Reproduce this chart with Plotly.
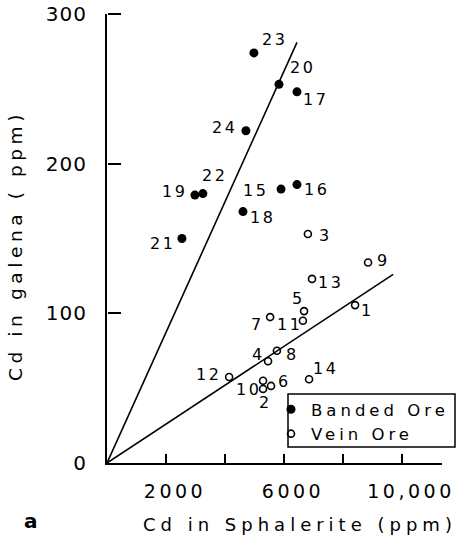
import plotly.graph_objects as go

# ---- data ----
banded_ids = ["23", "20", "17", "24", "19", "22", "15", "16", "18", "21"]
banded_sph = [4980, 5830, 6440, 4710, 2980, 3250, 5900, 6440, 4610, 2540]
banded_gal = [274, 253, 248, 222, 179, 180, 183, 186, 168, 150]

vein_ids = ["3", "9", "13", "5", "11", "7", "1", "4", "8", "12", "14", "6", "10", "2"]
vein_sph = [6810, 8850, 6950, 6680, 6640, 5530, 8410, 5460, 5760, 4140, 6850, 5560, 5290, 5290]
vein_gal = [153, 134, 123, 101.5, 95, 97.5, 105.5, 68, 75, 57.5, 56, 51.5, 55, 49.5]

banded_trend_x = [0, 6440]
banded_trend_y = [0, 281]
vein_trend_x = [0, 9700]
vein_trend_y = [0, 126]

x_tick_vals = [2000, 4000, 6000, 8000, 10000]
x_tick_text = ["2000", "", "6000", "", "10,000"]
y_tick_vals = [0, 100, 200, 300]
y_tick_text = ["0", "100", "200", "300"]

x_range = [0, 11356]
y_range = [0, 300]

x_title = "Cd in Sphalerite (ppm)"
y_title = "Cd in galena ( ppm)"
panel_label = "a"

# label offsets in pixels (right, down) from each point
label_offsets = {
    "23": (21, -13), "20": (24, -17), "17": (19, 8), "24": (-21, -3),
    "19": (-20, -4), "22": (12, -18), "15": (-26, 1), "16": (20, 5),
    "18": (20, 6), "21": (-19, 5),
    "3": (18, 1), "9": (15, -2), "13": (18, 4), "5": (-6, -13),
    "11": (-13, 4), "7": (-13, 7), "1": (12, 5), "4": (-10, -7),
    "8": (16, 4), "12": (-21, -2), "14": (16, -11), "6": (13, -4),
    "10": (-15, 9), "2": (2, 14),
}

FONT = "DejaVu Sans"
W, H = 466, 538
ML, MR, MT, MB = 107, 24, 14, 75
pw, ph = W - ML - MR, H - MT - MB


def px_x(p):
    return (p - ML) / pw


def px_y(p):
    return (H - MB - p) / ph


fig = go.Figure()

fig.add_trace(go.Scatter(x=banded_trend_x, y=banded_trend_y, mode="lines",
                         line=dict(color="black", width=1.6), showlegend=False,
                         hoverinfo="skip"))
fig.add_trace(go.Scatter(x=vein_trend_x, y=vein_trend_y, mode="lines",
                         line=dict(color="black", width=1.6), showlegend=False,
                         hoverinfo="skip"))

fig.add_trace(go.Scatter(x=banded_sph, y=banded_gal, mode="markers",
                         name="Banded Ore",
                         marker=dict(symbol="circle", size=9, color="black",
                                     line=dict(width=0))))
fig.add_trace(go.Scatter(x=vein_sph, y=vein_gal, mode="markers",
                         name="Vein Ore",
                         marker=dict(symbol="circle-open", size=7, color="black",
                                     line=dict(width=1.6, color="black"))))

# empty trace that carries the overlay axes used for the inward tick marks
fig.add_trace(go.Scatter(x=[], y=[], xaxis="x2", yaxis="y2", showlegend=False,
                         hoverinfo="skip"))

annotations = []
for ids, xs, ys in ((banded_ids, banded_sph, banded_gal), (vein_ids, vein_sph, vein_gal)):
    for i, xv, yv in zip(ids, xs, ys):
        dx, dy = label_offsets[i]
        annotations.append(dict(x=xv, y=yv, xref="x", yref="y", text=i,
                                showarrow=False, xshift=dx, yshift=-dy,
                                font=dict(family=FONT, size=16)))

annotations.append(dict(x=px_x(31), y=px_y(521), xref="paper", yref="paper",
                        xanchor="center", yanchor="middle",
                        text="<b>" + panel_label + "</b>", showarrow=False,
                        font=dict(family=FONT, size=20)))
annotations.append(dict(x=px_x(300), y=px_y(524), xref="paper", yref="paper",
                        xanchor="center", yanchor="middle",
                        text=x_title, showarrow=False,
                        font=dict(family=FONT, size=18)))
annotations.append(dict(x=px_x(16), y=px_y(246), xref="paper", yref="paper",
                        xanchor="center", yanchor="middle",
                        text=y_title, showarrow=False, textangle=-90,
                        font=dict(family=FONT, size=18.5)))

fig.update_layout(
    width=W, height=H,
    margin=dict(l=ML, r=MR, t=MT, b=MB, pad=0, autoexpand=False),
    paper_bgcolor="white", plot_bgcolor="white",
    font=dict(family=FONT, color="black"),
    annotations=annotations,
    shapes=[dict(type="rect", xref="paper", yref="paper",
                 x0=px_x(288), x1=px_x(455), y0=px_y(447), y1=px_y(394),
                 line=dict(color="black", width=1.5), fillcolor="white",
                 layer="above")],
    showlegend=True,
    legend=dict(x=px_x(286), y=px_y(392), xanchor="left", yanchor="top",
                borderwidth=0, bgcolor="rgba(0,0,0,0)",
                font=dict(family=FONT, size=16.5),
                itemwidth=30, indentation=-15, tracegroupgap=0),
    xaxis=dict(range=x_range, showgrid=False, zeroline=False, automargin=False,
               showline=True, linecolor="black", linewidth=2,
               ticks="", tickvals=x_tick_vals, ticktext=x_tick_text,
               ticklabelshift=9, ticklabelstandoff=10,
               tickfont=dict(family=FONT, size=19)),
    yaxis=dict(range=y_range, showgrid=False, zeroline=False, automargin=False,
               showline=True, linecolor="black", linewidth=2,
               ticks="", tickvals=y_tick_vals, ticktext=y_tick_text,
               ticklabelstandoff=14,
               tickfont=dict(family=FONT, size=20)),
    # overlay axes: their outward ticks point into the plot, like the original
    xaxis2=dict(range=x_range, overlaying="x", side="top", anchor="free", position=0,
                showgrid=False, zeroline=False, showline=False, automargin=False,
                showticklabels=False, ticks="outside", ticklen=9, tickwidth=1.5,
                tickcolor="black", tickvals=x_tick_vals),
    yaxis2=dict(range=y_range, overlaying="y", side="right", anchor="free", position=0,
                showgrid=False, zeroline=False, showline=False, automargin=False,
                showticklabels=False, ticks="outside", ticklen=13, tickwidth=2,
                tickcolor="black", tickvals=y_tick_vals[1:]),
)

# widen the letter spacing like the original lettering (measured by plotly too)
css = (
    'body{margin:0}'
    'text[style*="font-size: 19px"]{letter-spacing:3.5px}'
    'text[style*="font-size: 20px"]{letter-spacing:1px}'
    'text[style*="font-size: 18px"]{letter-spacing:5px}'
    'text[style*="font-size: 18.5px"]{letter-spacing:4.6px}'
    'text[style*="font-size: 16px"]{letter-spacing:2.5px}'
    'text[style*="font-size: 16.5px"]{letter-spacing:4px}'
)
post = (
    "var gd=document.getElementById('{plot_id}');"
    "var s=document.createElement('style');"
    "s.textContent='" + css + "';"
    "document.head.appendChild(s);"
    "return Plotly.relayout(gd,{'font.color':'#010101'});"
)

fig.write_html("out.html", post_script=post, config={"displayModeBar": False})
